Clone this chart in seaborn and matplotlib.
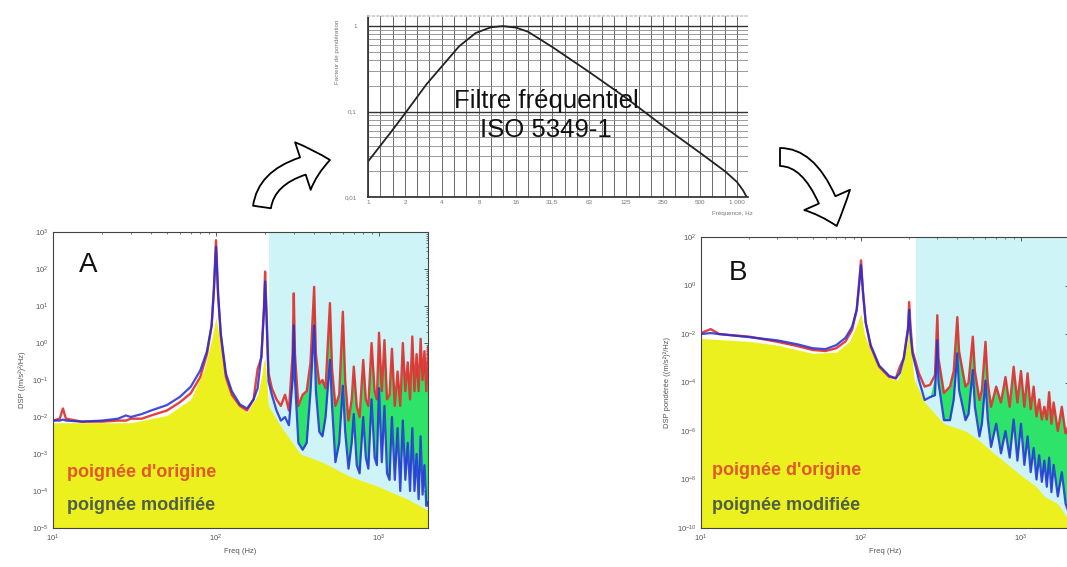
import numpy as np
import pandas as pd
import matplotlib
matplotlib.use("Agg")
import matplotlib.pyplot as plt
import matplotlib.ticker as mticker
from matplotlib.patches import FancyArrowPatch, ArrowStyle
import seaborn as sns

# ---------------- data ----------------
# Panel A : raw PSD
a_freq = [10, 11, 11.5, 12, 15, 20, 25, 28, 30, 35,
          40, 50, 60, 70, 80, 88, 94, 97, 100, 103,
          107, 115, 125, 140, 155, 170, 180, 190, 197, 200,
          204, 210, 220, 235, 250, 265, 280, 295, 300, 305,
          320, 340, 360, 380, 400, 410, 430, 450, 470, 500,
          515, 540, 570, 600, 620, 650, 680, 700, 730, 760,
          800, 830, 860, 900, 940, 970, 1000, 1040, 1080, 1120,
          1160, 1200, 1250, 1300, 1350, 1400, 1450, 1500, 1550, 1600,
          1650, 1700, 1750, 1800, 1850, 1900, 1950, 2000]
a_orig = [8e-3, 9e-3, 1.7e-2, 9e-3, 7.5e-3, 7.5e-3, 8e-3, 8e-3, 9e-3, 9e-3,
          1.1e-2, 1.5e-2, 2.5e-2, 4.4e-2, 0.12, 0.5, 3, 30, 600, 20,
          1.5, 0.12, 0.04, 0.02, 0.015, 0.03, 0.2, 0.4, 10, 85,
          8, 0.15, 0.06, 0.03, 0.02, 0.04, 0.015, 0.5, 22, 0.5,
          0.02, 0.04, 0.05, 0.3, 33, 0.5, 0.08, 0.1, 0.06, 12,
          0.2, 0.02, 0.04, 7, 0.1, 0.008, 0.03, 0.23, 0.02, 0.01,
          0.35, 0.03, 0.02, 1, 0.05, 0.03, 1.9, 0.05, 1.2, 0.03,
          0.04, 0.7, 0.02, 0.17, 0.02, 1, 0.05, 0.3, 0.03, 1.5,
          0.05, 0.5, 0.05, 1.3, 0.1, 0.6, 0.05, 0.8]
a_mod = [8e-3, 8e-3, 8.5e-3, 8e-3, 7.5e-3, 8e-3, 9e-3, 1.1e-2, 1.0e-2, 1.2e-2,
         1.5e-2, 2.1e-2, 3.5e-2, 6.6e-2, 0.18, 0.6, 3, 25, 400, 20,
         1.8, 0.15, 0.05, 0.022, 0.017, 0.03, 0.06, 0.5, 8, 46,
         5, 0.09, 0.04, 0.015, 0.008, 0.01, 0.006, 0.1, 3, 0.1,
         0.002, 0.0013, 0.002, 0.05, 3, 0.05, 0.004, 0.003, 0.01, 0.35,
         0.02, 0.0006, 0.002, 0.07, 0.004, 0.0004, 0.002, 0.012, 0.0005, 0.0003,
         0.01, 0.0008, 0.0004, 0.03, 0.0008, 0.0005, 0.06, 0.0006, 0.02, 0.0003,
         0.0002, 0.01, 0.0002, 0.005, 0.0001, 0.008, 0.0002, 0.002, 0.0001, 0.005,
         0.0001, 0.001, 6e-5, 0.003, 8e-5, 0.0005, 4e-5, 5e-5]
a_env_freq = [10, 30, 50, 70, 85, 95, 100, 105, 115, 130, 155, 180, 190, 196,
              200, 210, 250, 330, 450, 660, 1000, 1500, 2000]
a_env = [7e-3, 7e-3, 1.1e-2, 3e-2, 0.2, 1.5, 5, 1.2, 0.1, 0.03, 1.3e-2, 0.04, 0.12, 0.3,
         0.4, 0.02, 5.5e-3, 1e-3, 6e-4, 2.5e-4, 1.3e-4, 6e-5, 3e-5]
a_yticks = [1e-5, 1e-4, 1e-3, 1e-2, 1e-1, 1e0, 1e1, 1e2, 1e3]

# Panel B : weighted PSD
b_freq = [10, 11.5, 13, 20, 30, 40, 50, 60, 70, 80,
          88, 94, 97, 100, 103, 107, 115, 130, 150, 165,
          175, 185, 197, 200, 204, 210, 230, 250, 270, 290,
          300, 305, 330, 360, 380, 400, 410, 450, 470, 500,
          515, 550, 570, 600, 620, 650, 700, 750, 800, 850,
          900, 950, 1000, 1050, 1100, 1150, 1200, 1250, 1300, 1350,
          1400, 1450, 1500, 1550, 1600, 1700, 1800, 1900, 2000]
b_orig = [1.1e-2, 1.6e-2, 1.0e-2, 7.8e-3, 4.8e-3, 3.2e-3, 2.2e-3, 2e-3, 2.6e-3, 5e-3,
          1.5e-2, 0.1, 1, 11, 0.5, 0.03, 3e-3, 4.5e-4, 1.7e-4, 1.5e-4,
          4.5e-4, 1e-3, 0.02, 0.21, 0.02, 2e-3, 2.4e-4, 6.8e-5, 8e-5, 2e-4,
          0.06, 1e-3, 3.7e-5, 6.8e-5, 3e-4, 0.05, 2e-3, 6.8e-5, 1e-4, 7.8e-3,
          3e-4, 1.9e-5, 5e-5, 4.8e-3, 1e-4, 1e-5, 6.8e-5, 1.5e-5, 1.7e-4, 1e-5,
          4.5e-4, 1.5e-5, 3e-4, 1e-5, 2.4e-4, 8e-6, 6.8e-5, 4e-6, 2e-5, 3e-6,
          1e-5, 3e-6, 4e-5, 2e-6, 1.5e-5, 1e-6, 1e-5, 8e-7, 2e-6]
b_mod = [1.0e-2, 1.1e-2, 1.0e-2, 7.5e-3, 5.5e-3, 3.8e-3, 2.6e-3, 2.4e-3, 3.5e-3, 7e-3,
         2e-2, 0.1, 0.8, 7, 0.5, 0.03, 3.5e-3, 5e-4, 1.9e-4, 1.5e-4,
         2.5e-4, 1e-3, 0.015, 0.1, 0.01, 1.5e-3, 1.3e-4, 1.9e-5, 2.5e-5, 3e-5,
         5.6e-3, 1e-4, 2.8e-6, 2.8e-6, 2e-5, 1.6e-3, 5e-5, 2.8e-6, 5e-6, 3.3e-4,
         1e-5, 6e-7, 2e-6, 1.2e-4, 3e-6, 2.2e-7, 2e-6, 1.2e-7, 1e-6, 8e-8,
         3e-6, 6e-8, 2e-6, 4e-8, 6e-7, 2e-8, 2e-7, 1e-8, 1e-7, 8e-9,
         6e-8, 5e-9, 8e-8, 3e-9, 4e-8, 2e-9, 2e-8, 1e-9, 4e-10]
b_env_freq = [10, 20, 30, 50, 70, 85, 93, 100, 105, 115,
              130, 150, 170, 185, 195, 200, 205, 215, 250, 330,
              450, 550, 650, 750, 1000, 1250, 1400, 1700, 2000]
b_env = [6.6e-3, 5e-3, 3.5e-3, 1.6e-3, 1.8e-3, 5e-3, 0.02, 0.07, 0.01, 2e-3,
         4e-4, 1.5e-4, 1.3e-4, 8e-4, 5e-3, 0.02, 3e-3, 1.3e-4, 1.5e-5, 2e-6,
         1e-6, 4e-7, 1.5e-7, 7e-8, 1.5e-8, 5e-9, 2e-9, 1e-9, 2e-10]
b_yticks = [1e-10, 1e-8, 1e-6, 1e-4, 1e-2, 1e0, 1e2]
b_yminor = [1e-9, 1e-7, 1e-5, 1e-3, 1e-1, 1e1]
spec_xticks = [10, 100, 1000]

# Middle panel : ISO 5349-1 weighting
w_freq = [1, 1.5, 2, 3, 4, 5.5, 7.5, 10, 12.5, 16, 20, 31.5, 63, 125, 250, 500, 800, 1000, 1120, 1200]
w_val = [0.026, 0.055, 0.095, 0.21, 0.34, 0.58, 0.83, 0.97, 1.0, 0.96, 0.86, 0.57, 0.29,
         0.145, 0.068, 0.033, 0.020, 0.015, 0.012, 0.010]
w_xticks = [1, 2, 4, 8, 16, 31.5, 63, 125, 250, 500, 1000]
w_xticklabels = ["1", "2", "4", "8", "16", "31,5", "63", "125", "250", "500", "1 000"]
w_third_octaves = [1, 1.25, 1.6, 2, 2.5, 3.15, 4, 5, 6.3, 8, 10, 12.5, 16, 20, 25, 31.5, 40,
                   50, 63, 80, 100, 125, 160, 200, 250, 315, 400, 500, 630, 800, 1000]
w_yticks = [0.01, 0.1, 1]
w_yticklabels = ["0,01", "0,1", "1"]

# ---------------- style ----------------
sns.set_theme(style="white")
plt.rcParams['font.family'] = ['Liberation Sans', 'DejaVu Sans']
plt.rcParams['mathtext.default'] = 'regular'

C_YELLOW = '#ebf01e'
C_CYAN = '#cff4f8'
C_GREEN = '#2ee36a'
C_RED = '#e32b2b'
C_BLUE = '#1e2ed8'
C_TXT_RED = '#e2582a'
C_TXT_GREEN = '#4f5f48'
C_TICK = '#555555'

fig = plt.figure(figsize=(10.67, 5.67), dpi=100)


def spectrum_panel(rect, freq, orig, mod, env_freq, env, span_start, ylim, ylabel,
                   yticks, yminor):
    ax = fig.add_axes(rect)
    ax.set_xscale('log')
    ax.set_yscale('log')
    f = np.asarray(freq, float)
    o = np.asarray(orig, float)
    m = np.asarray(mod, float)
    ax.axvspan(span_start, 2000, color=C_CYAN, lw=0, zorder=0)
    ax.fill_between(env_freq, ylim[0], env, color=C_YELLOW, lw=0, zorder=1)
    ax.fill_between(f, m, o, where=(f >= 280) & (o > m), interpolate=True,
                    color=C_GREEN, lw=0, zorder=2)
    df = pd.DataFrame({'f': f, 'orig': o, 'mod': m})
    sns.lineplot(data=df, x='f', y='orig', ax=ax, color=C_RED, lw=1.7,
                 estimator=None, sort=False, alpha=0.9, zorder=3)
    sns.lineplot(data=df, x='f', y='mod', ax=ax, color=C_BLUE, lw=1.6,
                 estimator=None, sort=False, alpha=0.85, zorder=4)
    ax.set_xlim(10, 2000)
    ax.set_ylim(*ylim)
    ax.xaxis.set_major_locator(mticker.FixedLocator(spec_xticks))
    ax.xaxis.set_major_formatter(mticker.LogFormatterSciNotation())
    ax.xaxis.set_minor_locator(mticker.FixedLocator(
        [k * d for d in (10, 100) for k in range(2, 10)] + [2000]))
    ax.xaxis.set_minor_formatter(mticker.NullFormatter())
    ax.yaxis.set_major_locator(mticker.FixedLocator(yticks))
    ax.yaxis.set_major_formatter(mticker.LogFormatterSciNotation())
    ax.yaxis.set_minor_locator(mticker.FixedLocator(yminor))
    ax.yaxis.set_minor_formatter(mticker.NullFormatter())
    ax.tick_params(which='both', direction='in', top=True, right=True,
                   labelsize=5.5, labelcolor=C_TICK, color='#444444')
    ax.tick_params(which='major', length=3, width=0.6)
    ax.tick_params(which='minor', length=1.6, width=0.5)
    ax.set_xlabel('Freq (Hz)', fontsize=5.5, color=C_TICK, labelpad=3)
    ax.set_ylabel(ylabel, fontsize=5.5, color=C_TICK, labelpad=4)
    for s in ax.spines.values():
        s.set_color('#444444')
        s.set_linewidth(0.8)
    return ax


a_yminor = [k * 10.0 ** e for e in range(-5, 3) for k in range(2, 10)]
axA = spectrum_panel([0.0497, 0.0688, 0.3515, 0.522], a_freq, a_orig, a_mod,
                     a_env_freq, a_env, 210, (1e-5, 1e3), 'DSP ((m/s²)²/Hz)',
                     a_yticks, a_yminor)
axB = spectrum_panel([0.657, 0.0688, 0.345, 0.513], b_freq, b_orig, b_mod,
                     b_env_freq, b_env, 220, (1e-10, 1e2), 'DSP pondérée ((m/s²)²/Hz)',
                     b_yticks, b_yminor)

# ---------------- middle weighting panel ----------------
axM = fig.add_axes([0.3449, 0.6526, 0.3561, 0.319])
axM.set_xscale('log')
axM.set_yscale('log')
axM.set_xlim(1, 1230)
axM.set_ylim(0.01, 1.31)
axM.set_xticks(w_xticks)
axM.set_xticklabels(w_xticklabels)
axM.xaxis.set_minor_locator(mticker.FixedLocator(w_third_octaves))
axM.xaxis.set_minor_formatter(mticker.NullFormatter())
axM.set_yticks(w_yticks)
axM.set_yticklabels(w_yticklabels)
axM.yaxis.set_minor_locator(mticker.FixedLocator(
    [k * d for d in (0.01, 0.1) for k in range(2, 10)]))
axM.yaxis.set_minor_formatter(mticker.NullFormatter())
axM.grid(which='both', axis='x', color='#6a6a6a', lw=0.7)
axM.grid(which='minor', axis='y', color='#8a8a8a', lw=0.6)
axM.grid(which='major', axis='y', color='#333333', lw=1.0)
axM.tick_params(which='both', length=0, labelsize=4.5, labelcolor='#777777')
axM.tick_params(axis='y', pad=8)
axM.tick_params(axis='x', pad=2)
sns.lineplot(x=w_freq, y=w_val, ax=axM, color='#222222', lw=1.3, estimator=None, sort=False)
axM.spines['right'].set_visible(False)
axM.spines['top'].set_color('#cccccc')
axM.spines['top'].set_linestyle(':')
axM.spines['left'].set_color('#333333')
axM.spines['bottom'].set_color('#333333')
axM.set_ylabel('Facteur de pondération', fontsize=4.5, color='#777777')
axM.yaxis.set_label_coords(-0.075, 0.8)
fig.text(732 / 1067, 1 - 214 / 567, 'Fréquence, Hz', fontsize=4.5, color='#777777',
         ha='center', va='center')
fig.text(0.5117, 1 - 108 / 567, 'Filtre fréquentiel', fontsize=18.5, ha='center',
         va='baseline', color='#111111')
fig.text(0.5117, 1 - 137 / 567, 'ISO 5349-1', fontsize=18.5, ha='center',
         va='baseline', color='#111111')

# ---------------- annotations ----------------
fig.text(0.0825, 0.5326, 'A', fontsize=20, ha='center', va='center', color='#111111')
fig.text(0.6917, 0.5185, 'B', fontsize=20, ha='center', va='center', color='#111111')
for x0, yo, ym in [(0.0625, 0.1593, 0.1005), (0.667, 0.1623, 0.1005)]:
    fig.text(x0, yo, "poignée d'origine", fontsize=13, fontweight='bold',
             color=C_TXT_RED, ha='left', va='baseline')
    fig.text(x0, ym, "poignée modifiée", fontsize=13, fontweight='bold',
             color=C_TXT_GREEN, ha='left', va='baseline')

style = ArrowStyle.Simple(head_length=20, head_width=36, tail_width=13)
arrow_left = FancyArrowPatch((0.24555, 0.63492), (0.30928, 0.71781), transform=fig.transFigure,
                             arrowstyle=style, mutation_scale=1, shrinkA=0, shrinkB=0,
                             connectionstyle="angle3,angleA=82,angleB=8",
                             fc='white', ec='black', lw=1.3)
arrow_right = FancyArrowPatch((0.73102, 0.72310), (0.78416, 0.60141), transform=fig.transFigure,
                              arrowstyle=style, mutation_scale=1, shrinkA=0, shrinkB=0,
                              connectionstyle="angle3,angleA=0,angleB=-73",
                              fc='white', ec='black', lw=1.3)
fig.add_artist(arrow_left)
fig.add_artist(arrow_right)

fig.savefig('out.png', dpi=100)
